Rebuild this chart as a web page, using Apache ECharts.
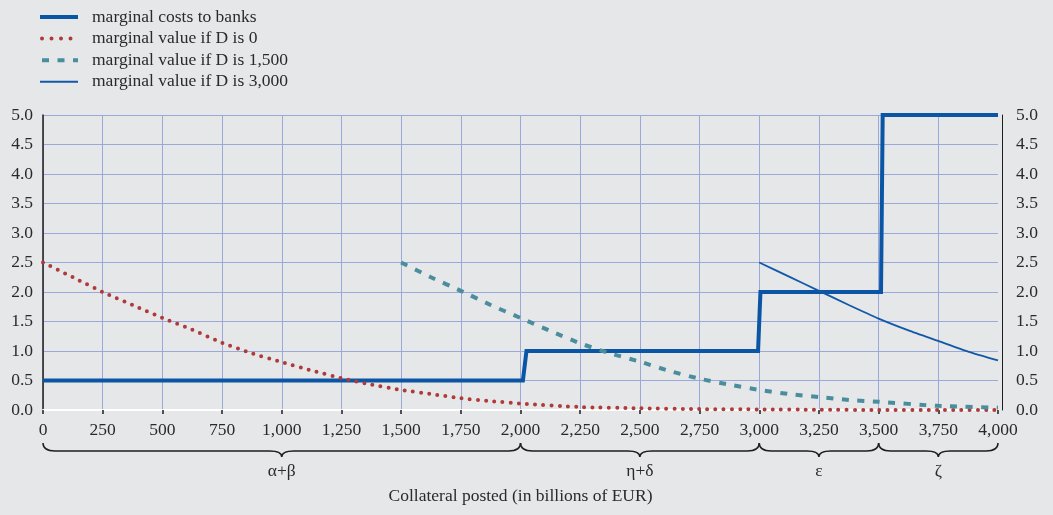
<!DOCTYPE html>
<html><head><meta charset="utf-8">
<script src="https://cdn.jsdelivr.net/npm/echarts@6/dist/echarts.min.js"></script>
<style>html,body{margin:0;padding:0;background:#e6e7e9}#c{width:1053px;height:515px}</style>
</head><body><div id="c"></div>
<script>
const seriesNames = ['marginal costs to banks', 'marginal value if D is 0', 'marginal value if D is 1,500', 'marginal value if D is 3,000'];
const costX = [0, 2010, 2025, 2995, 3005, 3510, 3517, 4000];
const costY = [0.5, 0.5, 1.0, 1.0, 2.0, 2.0, 5.0, 5.0];
const d0X = [0, 125, 250, 375, 500, 625, 750, 875, 1000, 1125, 1250, 1375, 1500, 1625, 1750, 1875, 2000, 2250, 2500, 2750, 3000, 3250, 3500, 3750, 4000];
const d0Y = [2.5, 2.25, 2.0, 1.78, 1.56, 1.36, 1.14, 0.96, 0.81, 0.67, 0.54, 0.43, 0.34, 0.27, 0.20, 0.15, 0.11, 0.05, 0.03, 0.015, 0.01, 0.005, 0, 0, 0];
const d1500X = [1500, 1625, 1750, 1875, 2000, 2125, 2250, 2375, 2500, 2625, 2750, 2875, 3000, 3125, 3250, 3375, 3500, 3750, 4000];
const d1500Y = [2.5, 2.25, 2.02, 1.78, 1.56, 1.34, 1.13, 0.96, 0.82, 0.66, 0.53, 0.43, 0.34, 0.27, 0.22, 0.17, 0.14, 0.07, 0.04];
const d3000X = [3000, 3125, 3250, 3375, 3500, 3625, 3750, 3875, 4000];
const d3000Y = [2.5, 2.26, 2.02, 1.78, 1.55, 1.35, 1.17, 0.99, 0.84];
const braceFrom = [0, 2000, 3000, 3500];
const braceTo = [2000, 3000, 3500, 4000];
const braceLabels = ['α+β', 'η+δ', 'ε', 'ζ'];
const xAxisName = 'Collateral posted (in billions of EUR)';

const FONT = '"Liberation Serif", "Times New Roman", serif';
const TXT = '#2a2a2a';
const GRID = '#9ba8da';
const FS = 17.5;
const C_COST = '#0b56a4', C_D0 = '#b0393a', C_D15 = '#4a8d9d', C_D30 = '#1158a8';
const LS = [
  { color: C_COST, width: 4, join: 'miter' },
  { color: C_D0, width: 4, type: [0, 8.2], cap: 'round' },
  { color: C_D15, width: 4, type: [7, 8.5] },
  { color: C_D30, width: 1.8 }
];
const LEG_LS = [
  { width: 4 },
  { width: 4, type: [0, 9.5], cap: 'round', dashOffset: -2 },
  { width: 4, type: [7, 8.5] },
  { width: 2 }
];

function pairs(xs, ys) { return xs.map((x, i) => [x, ys[i]]); }

function renderBrace(params, api) {
  const a = api.coord([api.value(0), 0]);
  const b = api.coord([api.value(1), 0]);
  const x0 = a[0], x1 = b[0], base = a[1];
  const yc = base + 33, yh = base + 41, yt = base + 47;
  const xm = (x0 + x1) / 2;
  const r = 12;
  const d = 'M' + x0 + ',' + yc + ' Q' + x0 + ',' + yh + ' ' + (x0 + r) + ',' + yh +
    ' L' + (xm - r) + ',' + yh + ' Q' + xm + ',' + yh + ' ' + xm + ',' + yt +
    ' Q' + xm + ',' + yh + ' ' + (xm + r) + ',' + yh +
    ' L' + (x1 - r) + ',' + yh + ' Q' + x1 + ',' + yh + ' ' + x1 + ',' + yc;
  return {
    type: 'group',
    children: [
      { type: 'path', shape: { pathData: d }, style: { fill: 'none', stroke: '#1e1e1e', lineWidth: 1.5 } },
      { type: 'text', x: xm, y: base + 61, style: { text: braceLabels[params.dataIndex], fill: TXT, font: FS + 'px ' + FONT, align: 'center', verticalAlign: 'middle' } }
    ]
  };
}

const chart = echarts.init(document.getElementById('c'));
chart.setOption({
  backgroundColor: '#e6e7e9',
  animation: false,
  grid: { left: 43, right: 55, top: 115, bottom: 105, containLabel: false },
  legend: {
    orient: 'vertical', left: 33, top: 3, itemWidth: 38, itemHeight: 12, itemGap: 3.6,
    data: seriesNames.map((n, i) => ({ name: n, lineStyle: LEG_LS[i] })),
    itemStyle: { color: 'rgba(0,0,0,0)', borderWidth: 0, opacity: 0 },
    textStyle: { color: TXT, fontSize: FS, fontFamily: FONT, padding: [0, 0, 0, 9] }
  },
  xAxis: {
    type: 'value', min: 0, max: 4000, interval: 250,
    axisLine: { show: true, onZero: false, lineStyle: { color: '#ffffff', width: 2 } },
    axisTick: { show: true, length: 4, lineStyle: { color: '#1e1e1e', width: 1.5 } },
    axisLabel: { formatter: v => v.toLocaleString('en-US'), margin: 11, color: TXT, fontSize: FS, fontFamily: FONT },
    splitLine: { show: true, showMaxLine: false, lineStyle: { color: GRID, width: 1 } },
    name: xAxisName, nameLocation: 'middle', nameGap: 77,
    nameTextStyle: { color: TXT, fontSize: FS, fontFamily: FONT }
  },
  yAxis: [
    {
      type: 'value', min: 0, max: 5, interval: 0.5, position: 'left',
      axisLine: { show: true, lineStyle: { color: '#1e1e1e', width: 1.5 } },
      axisTick: { show: false },
      axisLabel: { formatter: v => v.toFixed(1), margin: 10, color: TXT, fontSize: FS, fontFamily: FONT },
      splitLine: { show: true, lineStyle: { color: GRID, width: 1 } }
    },
    {
      type: 'value', min: 0, max: 5, interval: 0.5, position: 'right', offset: 4,
      axisLine: { show: true, lineStyle: { color: '#1e1e1e', width: 1 } },
      axisTick: { show: false },
      axisLabel: { formatter: v => v.toFixed(1), margin: 14, color: TXT, fontSize: FS, fontFamily: FONT },
      splitLine: { show: false }
    }
  ],
  series: [
    { name: seriesNames[0], type: 'line', symbol: 'none', data: pairs(costX, costY),
      lineStyle: LS[0], itemStyle: { color: C_COST } },
    { name: seriesNames[1], type: 'line', symbol: 'none', smooth: 0.2, data: pairs(d0X, d0Y),
      lineStyle: LS[1], itemStyle: { color: C_D0 } },
    { name: seriesNames[2], type: 'line', symbol: 'none', smooth: 0.2, data: pairs(d1500X, d1500Y),
      lineStyle: LS[2], itemStyle: { color: C_D15 } },
    { name: seriesNames[3], type: 'line', symbol: 'none', smooth: 0.2, data: pairs(d3000X, d3000Y),
      lineStyle: LS[3], itemStyle: { color: C_D30 } },
    { type: 'custom', renderItem: renderBrace, clip: false, silent: true,
      data: braceFrom.map((f, i) => [f, braceTo[i], 0]), encode: { x: [0, 1], y: 2 } }
  ]
});
</script></body></html>
